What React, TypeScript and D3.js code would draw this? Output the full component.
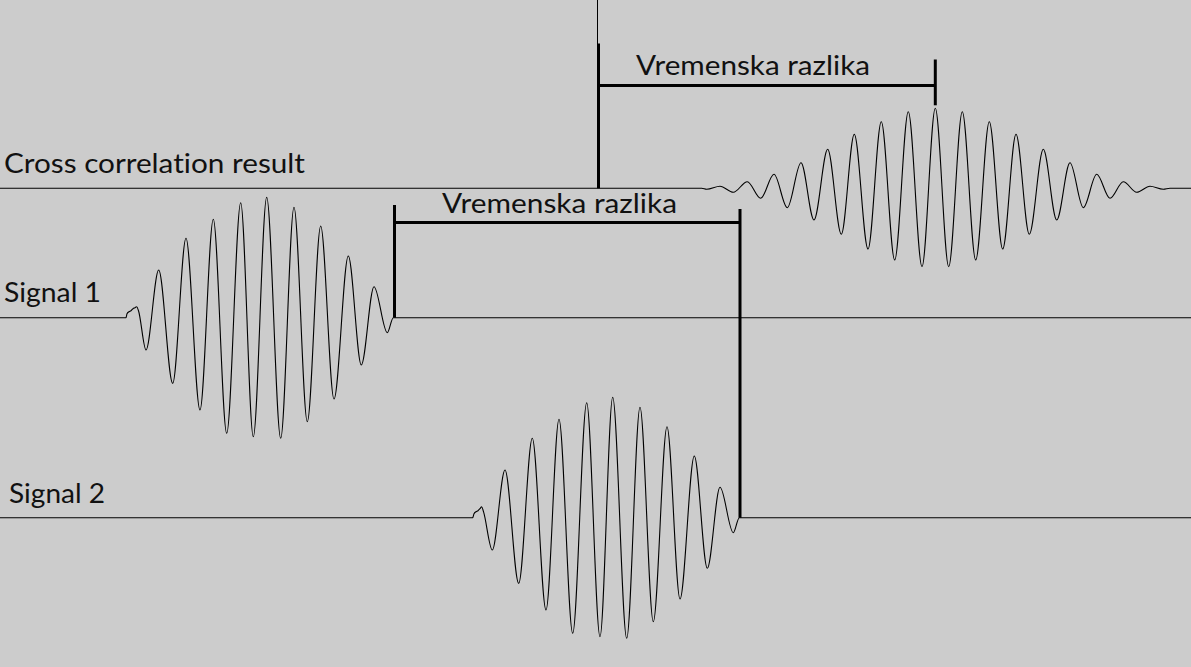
import { useEffect, useRef } from 'react';
import * as d3 from 'd3';

// sample positions are along a shared time axis (0..1191), amplitudes in arbitrary units
const signal1Noise = [
  [126, 0], [127, 4], [129, 6], [131, 7], [133, 9], [135, 10], [136.7, 11], [138.5, 7],
];
const signal1X = [146, 158.7, 172.7, 186, 200, 213.3, 226.7, 240.7, 253.3, 266.7, 280.7, 294, 307.3, 320.7, 334, 348.3, 361.3, 374, 387.3, 393.3];
const signal1Y = [-32.3, 47.7, -65.6, 79.4, -92.3, 98.4, -115.6, 115, -119, 120.4, -120.6, 110.4, -104, 91.7, -81.3, 61.7, -47.3, 31, -15, 0];

const signal2Noise = [
  [472.7, 0], [474, 4], [476, 6], [478, 7], [480, 9], [481.7, 11], [483.5, 6],
];
const signal2X = [492.3, 505, 518.7, 532.3, 546, 559, 572.7, 586.7, 600, 612.7, 626.7, 640, 653.3, 667, 680, 694.3, 707.3, 720, 733.3, 739.3];
const signal2Y = [-32.3, 47.7, -65.6, 79.4, -92.3, 98.4, -115.6, 115, -119, 120.4, -120.6, 110.4, -104, 91, -81.3, 61.7, -50.6, 30.4, -15, 0];

const corrX = [701.7, 706.7, 720, 733.3, 747.3, 760.7, 774, 787.3, 801, 814, 827.7, 841.3, 854.3, 868, 881.3, 894.7, 908.3, 922, 935.3, 948.7, 962.3, 975.7, 989.3, 1002.7, 1016, 1029.3, 1043.3, 1056.7, 1070, 1083.3, 1096.7, 1110, 1123.3, 1136.7, 1150, 1163.3, 1170];
const corrY = [0, -1, 2, -4, 6.6, -10, 14, -19.4, 25.6, -31.7, 39, -46, 54, -60.7, 66.6, -71.7, 76.6, -78.4, 80, -78.4, 76.6, -71.7, 66.6, -60.7, 54, -46, 39, -31.7, 25.6, -19.4, 14, -10, 6.6, -4, 2, -1, 0];

const labels = ['Cross correlation result', 'Signal 1', 'Signal 2'];
const bracketLabel = 'Vremenska razlika';

export default function App() {
  const svgRef = useRef<SVGSVGElement>(null);
  const width = 1191;
  const height = 667;

  useEffect(() => {
    if (!svgRef.current) return;
    const svg = d3.select(svgRef.current);
    svg.selectAll('*').remove();

    const x = d3.scaleLinear().domain([0, 1191]).range([0, width]);
    // one amplitude scale per trace, centred on its baseline
    const yScale = (base: number) => d3.scaleLinear().domain([-130, 130]).range([base + 130, base - 130]);
    const yCorr = yScale(188.3);
    const y1 = yScale(317.7);
    const y2 = yScale(517.7);

    svg.append('rect').attr('width', width).attr('height', height).attr('fill', '#cccccc');

    const build = (noise: number[][], xs: number[], ys: number[]) => {
      const pts: [number, number][] = [[0, 0]];
      noise.forEach((d) => pts.push([d[0], d[1]]));
      xs.forEach((v, i) => pts.push([v, ys[i]]));
      pts.push([1191, 0]);
      return pts;
    };

    const traces = [
      { pts: build([], corrX, corrY), y: yCorr },
      { pts: build(signal1Noise, signal1X, signal1Y), y: y1 },
      { pts: build(signal2Noise, signal2X, signal2Y), y: y2 },
    ];

    traces.forEach((t) => {
      const line = d3
        .line<[number, number]>()
        .x((d) => x(d[0]))
        .y((d) => t.y(d[1]))
        .curve(d3.curveMonotoneX);
      svg
        .append('path')
        .attr('d', line(t.pts))
        .attr('fill', 'none')
        .attr('stroke', '#000')
        .attr('stroke-width', 1.1);
    });

    // labels
    const font = 'Lato, "Open Sans", sans-serif';
    const labelPos = [
      { x: 4, y: 173, w: 301 },
      { x: 4, y: 302, w: 97 },
      { x: 9, y: 503, w: 96 },
    ];
    labels.forEach((txt, i) => {
      svg
        .append('text')
        .attr('x', labelPos[i].x)
        .attr('y', labelPos[i].y)
        .attr('font-family', font)
        .attr('font-size', 27)
        .attr('fill', '#111')
        .style('font-variant-ligatures', 'none')
        .attr('textLength', labelPos[i].w)
        .attr('lengthAdjust', 'spacingAndGlyphs')
        .text(txt);
    });

    // thin guide line above zero lag
    svg.append('line')
      .attr('x1', x(597.5)).attr('x2', x(597.5))
      .attr('y1', 0).attr('y2', 44)
      .attr('stroke', '#000').attr('stroke-width', 1);

    // brackets marking the time difference
    const brackets = [
      { x0: 598.5, x1: 935.3, top0: 43.5, top1: 59.5, bot0: yCorr(0), bot1: yCorr(80) - 3, bar: 85.5, tx: 636, ty: 75, tw: 234 },
      { x0: 394.5, x1: 740, top0: 205, top1: 209, bot0: y1(0), bot1: y2(0), bar: 222.5, tx: 442, ty: 213, tw: 235 },
    ];
    brackets.forEach((b) => {
      const g = svg.append('g').attr('stroke', '#000').attr('stroke-width', 3);
      g.append('line').attr('x1', x(b.x0)).attr('x2', x(b.x0)).attr('y1', b.top0).attr('y2', b.bot0);
      g.append('line').attr('x1', x(b.x1)).attr('x2', x(b.x1)).attr('y1', b.top1).attr('y2', b.bot1);
      g.append('line').attr('x1', x(b.x0)).attr('x2', x(b.x1)).attr('y1', b.bar).attr('y2', b.bar);
      svg
        .append('text')
        .attr('x', b.tx)
        .attr('y', b.ty)
        .attr('font-family', font)
        .attr('font-size', 27)
        .attr('fill', '#111')
        .style('font-variant-ligatures', 'none')
        .attr('textLength', b.tw)
        .attr('lengthAdjust', 'spacingAndGlyphs')
        .text(bracketLabel);
    });
  }, []);

  return (
    <svg
      ref={svgRef}
      width={width}
      height={height}
      style={{ position: 'absolute', left: 0, top: 0 }}
    />
  );
}
